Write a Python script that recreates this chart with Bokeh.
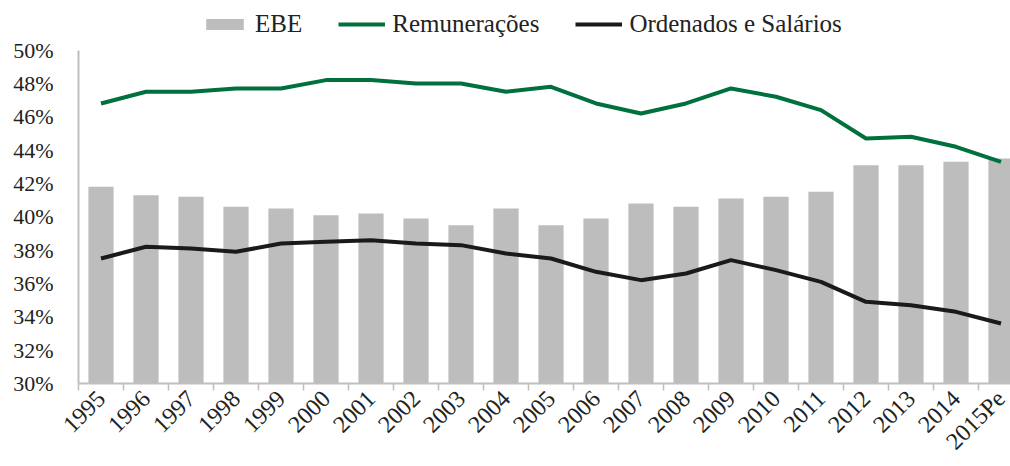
import math
from bokeh.plotting import figure
from bokeh.models import (Range1d, FixedTicker, PrintfTickFormatter, Legend, LegendItem,
                          ColumnDataSource)
from bokeh.embed import file_html
from bokeh.resources import INLINE

years = ["1995", "1996", "1997", "1998", "1999", "2000", "2001", "2002", "2003", "2004",
         "2005", "2006", "2007", "2008", "2009", "2010", "2011", "2012", "2013", "2014", "2015Pe"]
ebe = [41.8, 41.3, 41.2, 40.6, 40.5, 40.1, 40.2, 39.9, 39.5, 40.5,
       39.5, 39.9, 40.8, 40.6, 41.1, 41.2, 41.5, 43.1, 43.1, 43.3, 43.5]
remuneracoes = [46.8, 47.5, 47.5, 47.7, 47.7, 48.2, 48.2, 48.0, 48.0, 47.5,
                47.8, 46.8, 46.2, 46.8, 47.7, 47.2, 46.4, 44.7, 44.8, 44.2, 43.3]
ordenados = [37.5, 38.2, 38.1, 37.9, 38.4, 38.5, 38.6, 38.4, 38.3, 37.8,
             37.5, 36.7, 36.2, 36.6, 37.4, 36.8, 36.1, 34.9, 34.7, 34.3, 33.6]
y_ticks = [30, 32, 34, 36, 38, 40, 42, 44, 46, 48, 50]

FONT = "Liberation Serif"
TXT = "#222222"
AX = "#BFBFBF"

idx = list(range(len(years)))
src = ColumnDataSource(dict(x=idx, ebe=ebe, rem=remuneracoes, ord=ordenados))

# frame extends to the top of the page so the legend can sit above the 50% line
y_top = 30 + 20 * 386 / 336.0
p = figure(width=1010, height=466, output_backend="svg", toolbar_location=None,
           x_range=Range1d(-0.5, -0.5 + 932 / 45.0), y_range=Range1d(30, y_top),
           min_border_left=78, min_border_right=0, min_border_bottom=80, min_border_top=0)
p.outline_line_color = None
p.xgrid.visible = False
p.ygrid.visible = False

r_bar = p.vbar(x="x", top="ebe", bottom=30, width=0.56, source=src,
               fill_color="#BDBDBD", line_color=None)
r_rem = p.line(x="x", y="rem", source=src, line_color="#00703C", line_width=4)
r_ord = p.line(x="x", y="ord", source=src, line_color="#1A1A1A", line_width=4)

ya = p.yaxis[0]
ya.ticker = FixedTicker(ticks=y_ticks)
ya.formatter = PrintfTickFormatter(format="%d%%")
ya.bounds = (30, 50)
ya.axis_line_color = AX
ya.axis_line_width = 2
ya.major_tick_line_color = None
ya.minor_tick_line_color = None
ya.major_label_standoff = 19
ya.major_label_text_font = FONT
ya.major_label_text_font_size = "22px"
ya.major_label_text_color = TXT

xa = p.xaxis[0]
xa.ticker = FixedTicker(ticks=idx, minor_ticks=[i - 0.5 for i in idx] + [len(idx) - 0.5])
xa.major_label_overrides = {i: y for i, y in enumerate(years)}
xa.major_label_orientation = math.pi / 4
xa.axis_line_color = AX
xa.axis_line_width = 2
xa.major_tick_line_color = None
xa.minor_tick_line_color = AX
xa.minor_tick_line_width = 1.5
xa.minor_tick_in = 0
xa.minor_tick_out = 7
xa.major_label_standoff = 4
xa.major_label_text_font = FONT
xa.major_label_text_font_size = "24px"
xa.major_label_text_color = TXT

legend = Legend(items=[LegendItem(label="EBE", renderers=[r_bar]),
                       LegendItem(label="Remunerações", renderers=[r_rem]),
                       LegendItem(label="Ordenados e Salários", renderers=[r_ord])],
                orientation="horizontal", location=(123, 345),
                glyph_width=47, glyph_height=14, label_standoff=7, spacing=36,
                padding=6, margin=0, border_line_color=None,
                background_fill_alpha=0,
                label_text_font=FONT, label_text_font_size="25px", label_text_color=TXT)
p.add_layout(legend, "center")

open("out.html", "w").write(file_html(p, INLINE))
